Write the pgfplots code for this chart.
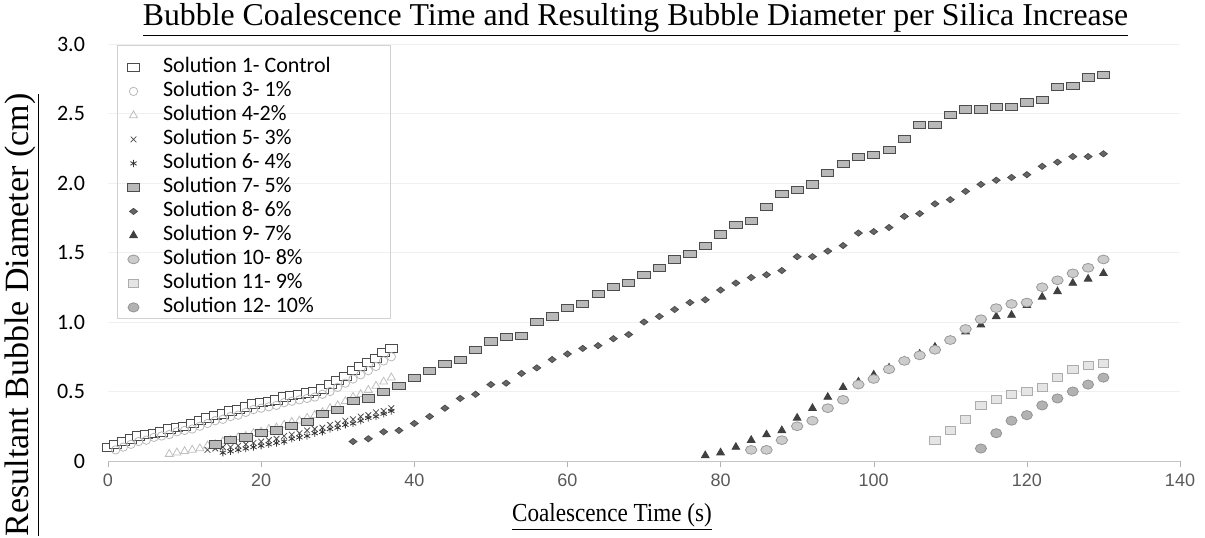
\documentclass[border=0pt]{standalone}
\usepackage{fontspec}
\setmainfont{Liberation Serif}
\newfontfamily\carlito{Carlito}
\newfontfamily\arialf{Liberation Sans}
\usepackage{pgfplots}
\pgfplotsset{compat=1.18}
\begin{document}
\begin{tikzpicture}
\begin{axis}[
 at={(0,0)}, anchor=south west,
 scale only axis, width=536pt, height=208.5pt,
 xmin=0, xmax=140, ymin=0, ymax=3,
 axis x line*=bottom, axis y line*=left,
 y axis line style={draw=none},
 x axis line style={gray!45,-},
 xtick={0,20,40,60,80,100,120,140}, xticklabels={0,20,40,60,80,100,120,140},
 ytick={0,0.5,1,1.5,2,2.5,3}, yticklabels={0,0.5,1.0,1.5,2.0,2.5,3.0},
 tick align=outside,
 xtick style={gray!60},
 major tick length=3pt,
 ytick style={draw=none},
 xticklabel style={font=\arialf\fontsize{9}{10}\selectfont, text=black!65},
 yticklabel style={font=\carlito\fontsize{11}{13}\selectfont, xshift=-5pt},
 ymajorgrids, grid style={gray!12},
 clip=false,
 legend style={at={(axis description cs:0,1)}, anchor=north west, xshift=9.5pt, yshift=-5.5pt,
   draw=none, fill=none, inner sep=0pt, column sep=11pt,
   font=\carlito\fontsize{11}{12}\selectfont,
   nodes={text height=8pt, text depth=2.5pt, inner sep=0.75pt}},
 legend cell align=left,
]
% Solution 1 - Control
\addplot[only marks, mark=square*, mark size=2.1pt, draw=black!70, fill=white, mark options={xscale=1.4}] coordinates {
(0,0.10)(1,0.12)(2,0.14)(3,0.16)(4,0.18)(5,0.19)(6,0.20)(7,0.21)(8,0.23)(9,0.24)(10,0.25)
(11,0.27)(12,0.29)(13,0.31)(14,0.33)(15,0.34)(16,0.36)(17,0.37)(18,0.39)(19,0.41)(20,0.42)
(21,0.43)(22,0.44)(23,0.46)(24,0.47)(25,0.48)(26,0.49)(27,0.50)(28,0.52)(29,0.55)(30,0.58)
(31,0.61)(32,0.65)(33,0.68)(34,0.71)(35,0.74)(36,0.78)(37,0.81)};
\addlegendentry{Solution 1- Control}
% Solution 3 - 1%
\addplot[only marks, mark=o, mark size=2.1pt, gray!55] coordinates {
(1,0.08)(2,0.10)(3,0.12)(4,0.14)(5,0.15)(6,0.17)(7,0.18)(8,0.19)(9,0.21)(10,0.22)
(11,0.23)(12,0.25)(13,0.27)(14,0.29)(15,0.30)(16,0.32)(17,0.33)(18,0.35)(19,0.37)(20,0.38)
(21,0.39)(22,0.40)(23,0.42)(24,0.43)(25,0.44)(26,0.45)(27,0.46)(28,0.48)(29,0.50)(30,0.53)
(31,0.56)(32,0.59)(33,0.62)(34,0.65)(35,0.68)(36,0.72)(37,0.75)};
\addlegendentry{Solution 3- 1\%}
% Solution 4 - 2%
\addplot[only marks, mark=triangle, mark size=2.3pt, gray!50] coordinates {
(8,0.05)(9,0.06)(10,0.07)(11,0.08)(12,0.09)(13,0.11)(14,0.12)(15,0.14)(16,0.15)(17,0.17)
(18,0.18)(19,0.20)(20,0.21)(21,0.23)(22,0.24)(23,0.26)(24,0.28)(25,0.29)(26,0.31)(27,0.33)
(28,0.35)(29,0.38)(30,0.40)(31,0.43)(32,0.46)(33,0.48)(34,0.51)(35,0.54)(36,0.57)(37,0.60)};
\addlegendentry{Solution 4-2\%}
% Solution 5 - 3%
\addplot[only marks, mark=x, mark size=2pt, black!70] coordinates {
(13,0.08)(14,0.09)(15,0.10)(16,0.10)(17,0.11)(18,0.12)(19,0.13)(20,0.14)(21,0.15)(22,0.16)
(23,0.18)(24,0.19)(25,0.20)(26,0.22)(27,0.23)(28,0.24)(29,0.26)(30,0.27)(31,0.29)(32,0.30)
(33,0.32)(34,0.33)(35,0.35)(36,0.36)(37,0.38)};
\addlegendentry{Solution 5- 3\%}
% Solution 6 - 4%
\addplot[only marks, mark=asterisk, mark size=1.8pt, black!80] coordinates {
(15,0.06)(16,0.07)(17,0.08)(18,0.09)(19,0.10)(20,0.11)(21,0.12)(22,0.13)(23,0.14)(24,0.16)
(25,0.17)(26,0.18)(27,0.20)(28,0.21)(29,0.23)(30,0.24)(31,0.26)(32,0.27)(33,0.29)(34,0.31)
(35,0.32)(36,0.34)(37,0.36)};
\addlegendentry{Solution 6- 4\%}
% Solution 7 - 5%
\addplot[only marks, mark=square*, mark size=1.8pt, draw=black!70, fill=gray!55, mark options={xscale=1.7}] coordinates {
(14,0.12)(16,0.15)(18,0.17)(20,0.20)(22,0.22)(24,0.25)(26,0.28)(28,0.34)(30,0.37)(32,0.43)
(34,0.45)(36,0.50)(38,0.54)(40,0.60)(42,0.65)(44,0.70)(46,0.73)(48,0.80)(50,0.86)(52,0.89)
(54,0.90)(56,1.00)(58,1.04)(60,1.10)(62,1.13)(64,1.20)(66,1.25)(68,1.28)(70,1.34)(72,1.39)
(74,1.45)(76,1.49)(78,1.55)(80,1.63)(82,1.70)(84,1.73)(86,1.83)(88,1.92)(90,1.95)(92,1.99)
(94,2.07)(96,2.14)(98,2.19)(100,2.20)(102,2.24)(104,2.32)(106,2.42)(108,2.42)(110,2.49)(112,2.53)
(114,2.53)(116,2.55)(118,2.55)(120,2.58)(122,2.60)(124,2.69)(126,2.70)(128,2.76)(130,2.78)};
\addlegendentry{Solution 7- 5\%}
% Solution 8 - 6%
\addplot[only marks, mark=diamond*, mark size=2.2pt, draw=black!70, fill=black!60, mark options={xscale=1.2,yscale=0.7}] coordinates {
(32,0.14)(34,0.16)(36,0.21)(38,0.22)(40,0.27)(42,0.32)(44,0.38)(46,0.45)(48,0.48)(50,0.55)
(52,0.56)(54,0.63)(56,0.67)(58,0.73)(60,0.77)(62,0.81)(64,0.83)(66,0.88)(68,0.91)(70,1.00)
(72,1.04)(74,1.09)(76,1.14)(78,1.16)(80,1.23)(82,1.28)(84,1.32)(86,1.34)(88,1.37)(90,1.47)
(92,1.47)(94,1.51)(96,1.55)(98,1.64)(100,1.65)(102,1.68)(104,1.76)(106,1.78)(108,1.85)(110,1.88)
(112,1.94)(114,1.99)(116,2.02)(118,2.04)(120,2.06)(122,2.12)(124,2.15)(126,2.19)(128,2.19)(130,2.21)};
\addlegendentry{Solution 8- 6\%}
% Solution 9 - 7%
\addplot[only marks, mark=triangle*, mark size=2.2pt, black!75] coordinates {
(78,0.04)(80,0.06)(82,0.10)(84,0.15)(86,0.19)(88,0.22)(90,0.31)(92,0.38)(94,0.46)(96,0.53)
(98,0.57)(100,0.62)(102,0.67)(104,0.72)(106,0.77)(108,0.82)(110,0.87)(112,0.93)(114,0.98)(116,1.04)
(118,1.05)(120,1.12)(122,1.18)(124,1.22)(126,1.28)(128,1.31)(130,1.35)};
\addlegendentry{Solution 9- 7\%}
% Solution 10 - 8%
\addplot[only marks, mark=*, mark size=2.2pt, draw=gray!80, fill=gray!40, mark options={xscale=1.3}] coordinates {
(84,0.08)(86,0.08)(88,0.15)(90,0.25)(92,0.29)(94,0.38)(96,0.44)(98,0.55)(100,0.59)(102,0.66)
(104,0.72)(106,0.76)(108,0.80)(110,0.87)(112,0.95)(114,1.02)(116,1.10)(118,1.13)(120,1.14)(122,1.25)
(124,1.30)(126,1.35)(128,1.39)(130,1.45)};
\addlegendentry{Solution 10- 8\%}
% Solution 11 - 9%
\addplot[only marks, mark=square*, mark size=2pt, draw=gray!65, fill=gray!20, mark options={xscale=1.3}] coordinates {
(108,0.15)(110,0.22)(112,0.30)(114,0.40)(116,0.44)(118,0.48)(120,0.50)(122,0.53)(124,0.60)(126,0.66)
(128,0.69)(130,0.70)};
\addlegendentry{Solution 11- 9\%}
% Solution 12 - 10%
\addplot[only marks, mark=*, mark size=2.3pt, draw=gray!85, fill=gray!60, mark options={xscale=1.2}] coordinates {
(114,0.09)(116,0.20)(118,0.29)(120,0.33)(122,0.40)(124,0.45)(126,0.50)(128,0.55)(130,0.60)};
\addlegendentry{Solution 12- 10\%}
\draw[gray!35] (axis description cs:0.0084,0.9976) rectangle (axis description cs:0.263,0.343);
\end{axis}
\node[font=\fontsize{15.9}{19}\selectfont] at (263.75pt,220.5pt) {\underline{Bubble Coalescence Time and Resulting Bubble Diameter per Silica Increase}};
\node[rotate=90, font=\fontsize{17}{20}\selectfont] at (-43pt,73pt) {\underline{Resultant Bubble Diameter (cm)}};
\node[font=\fontsize{13}{16}\selectfont, xscale=0.89] at (252pt,-28pt) {\underline{Coalescence Time (s)}};
\pgfresetboundingbox
\path (-54pt,-38pt) rectangle (548.5pt,230.5pt);
\end{tikzpicture}
\end{document}
